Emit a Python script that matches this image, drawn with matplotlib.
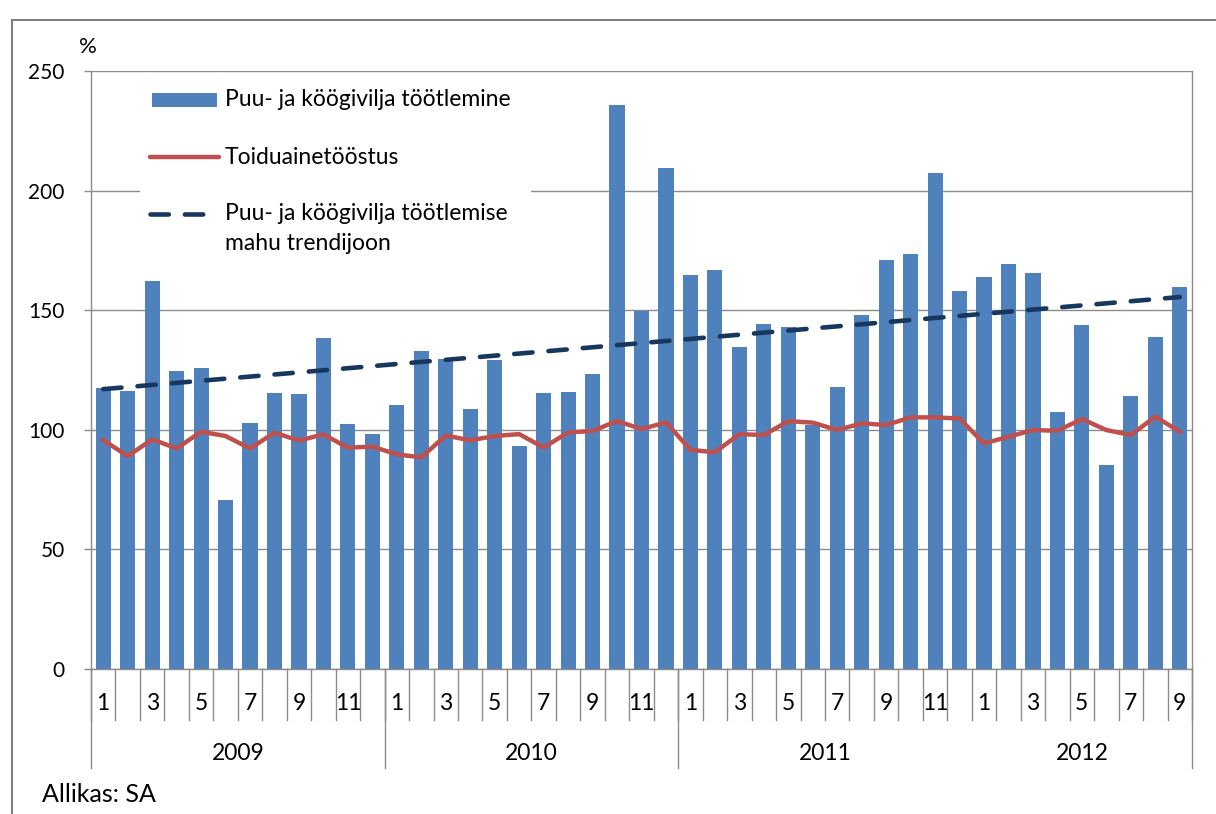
import matplotlib.pyplot as plt
from matplotlib.patches import Rectangle
from matplotlib.lines import Line2D
import matplotlib.transforms as mtransforms

# Puu- ja köögivilja töötlemine, kuud 2009-01 ... 2012-09
puu = [117.5, 116.2, 162.2, 124.6, 125.8, 70.6, 102.8, 115.4, 115.0, 138.4, 102.4, 98.2,
       110.4, 133.0, 129.6, 108.7, 129.0, 93.2, 115.4, 115.8, 123.3, 235.8, 149.8, 209.4,
       164.7, 166.8, 134.6, 144.2, 143.0, 102.0, 118.0, 148.0, 171.0, 173.5, 207.4, 158.0,
       163.9, 169.3, 165.6, 107.4, 143.8, 85.3, 114.1, 138.8, 159.7]

# Toiduainetööstus
toit = [95.7, 89.0, 96.0, 92.2, 99.2, 97.4, 92.2, 98.8, 95.5, 98.1, 92.5, 93.0,
        89.7, 88.5, 97.6, 95.6, 97.4, 98.2, 92.6, 98.9, 99.5, 103.7, 100.3, 103.1,
        91.6, 90.6, 98.2, 97.8, 103.6, 103.0, 99.9, 102.7, 102.0, 105.2, 105.2, 104.7,
        94.3, 97.1, 99.9, 99.6, 104.5, 99.9, 97.8, 105.5, 99.2]

# trendijoone otspunktid
trend_x = [0, 44]
trend_y = [117.0, 155.5]

aastad = ["2009", "2010", "2011", "2012"]
kuud_aastas = [12, 12, 12, 9]
kuu_sildid = ["1", "3", "5", "7", "9", "11"]

fig = plt.figure(figsize=(12.16, 8.14), dpi=100)
plt.rcParams['font.family'] = ['Lato', 'DejaVu Sans']

W, H = 1216, 814
L, R, T, B = 91, 1192, 71, 669
ax = fig.add_axes([L / W, 1 - B / H, (R - L) / W, (B - T) / H])

x = list(range(len(puu)))
ax.set_axisbelow(True)
ax.bar(x, puu, width=0.62, color="#4F81BD", zorder=2)
ax.plot(x, toit, color="#C0504D", lw=3.2, zorder=3, solid_joinstyle="round")
ax.plot(trend_x, trend_y, color="#17375E", lw=3.3, ls=(0, (4, 3.5)),
        dash_capstyle="round", zorder=4)

ax.set_xlim(-0.5, len(puu) - 0.5)
ax.set_ylim(0, 250)
ax.set_yticks([0, 50, 100, 150, 200, 250])
ax.yaxis.grid(True, color="#8c8c8c", lw=1.0)
ax.tick_params(axis="y", direction="out", length=5, width=1, color="#8c8c8c",
               labelsize=15, pad=14)
ax.set_xticks([])
for s in ["left", "right", "bottom"]:
    ax.spines[s].set_color("#8c8c8c")
    ax.spines[s].set_linewidth(1.0)
ax.spines["top"].set_visible(False)

# kategooriate telg
tr = mtransforms.blended_transform_factory(ax.transData, ax.transAxes)
small = -(720 - B) / (B - T)
long_ = -(768 - B) / (B - T)
for k in range(len(puu) + 1):
    ax.add_line(Line2D([k - 0.5, k - 0.5], [0, small], transform=tr, color="#8c8c8c",
                       lw=1.0, clip_on=False))
start = 0
for a, n in zip(aastad, kuud_aastas):
    for m in range(n):
        if str(m + 1) in kuu_sildid:
            ax.text(start + m, -(704 - B) / (B - T), str(m + 1), transform=tr,
                    ha="center", va="center", fontsize=16.5)
    ax.text(start + (n - 1) / 2, -(753 - B) / (B - T), a, transform=tr,
            ha="center", va="center", fontsize=16.5)
    start += n
# 2011 ja 2012 vahel eraldajat pole
for s in [0, 12, 24, 45]:
    ax.add_line(Line2D([s - 0.5, s - 0.5], [0, long_], transform=tr, color="#8c8c8c",
                       lw=1.0, clip_on=False))

# legend (käsitsi, nagu Excelis)
def ax_xy(px, py):
    return (px - L) / (R - L), (B - py) / (B - T)

x0, y0 = ax_xy(140, 268)
x1, y1 = ax_xy(531, 78)
ax.add_patch(Rectangle((x0, y0), x1 - x0, y1 - y0, transform=ax.transAxes,
                       facecolor="white", edgecolor="none", zorder=1))
rx0, ry0 = ax_xy(152, 107)
rx1, ry1 = ax_xy(217, 93)
ax.add_patch(Rectangle((rx0, ry0), rx1 - rx0, ry1 - ry0, transform=ax.transAxes,
                       facecolor="#4F81BD", edgecolor="none", zorder=5))
lx0, ly = ax_xy(150, 157)
lx1, _ = ax_xy(219, 157)
ax.add_line(Line2D([lx0, lx1], [ly, ly], transform=ax.transAxes, color="#C0504D",
                   lw=3.2, solid_capstyle="round", zorder=5))
dx0, dy = ax_xy(150, 214)
dx1, _ = ax_xy(203, 214)
ax.add_line(Line2D([dx0, dx1], [dy, dy], transform=ax.transAxes, color="#17375E",
                   lw=3.3, ls=(0, (4, 3.5)), dash_capstyle="round", zorder=5))
for txt, py in [("Puu- ja köögivilja töötlemine", 100), ("Toiduainetööstus", 157),
                ("Puu- ja köögivilja töötlemise", 214), ("mahu trendijoon", 243)]:
    tx, ty = ax_xy(225, py)
    ax.text(tx, ty, txt, transform=ax.transAxes, ha="left", va="center",
            fontsize=16.5, zorder=6)

fig.text(88 / W, 1 - 47 / H, "%", ha="center", va="center", fontsize=16)
fig.text(42 / W, 1 - 795 / H, "Allikas: SA", ha="left", va="center", fontsize=18)

# välimine raam
fig.add_artist(Line2D([12 / W, 12 / W], [0, 1 - 20 / H], transform=fig.transFigure,
                      color="#7f7f7f", lw=1.5))
fig.add_artist(Line2D([12 / W, 1], [1 - 20 / H, 1 - 20 / H], transform=fig.transFigure,
                      color="#7f7f7f", lw=1.5))

fig.savefig("out.png", dpi=100)
